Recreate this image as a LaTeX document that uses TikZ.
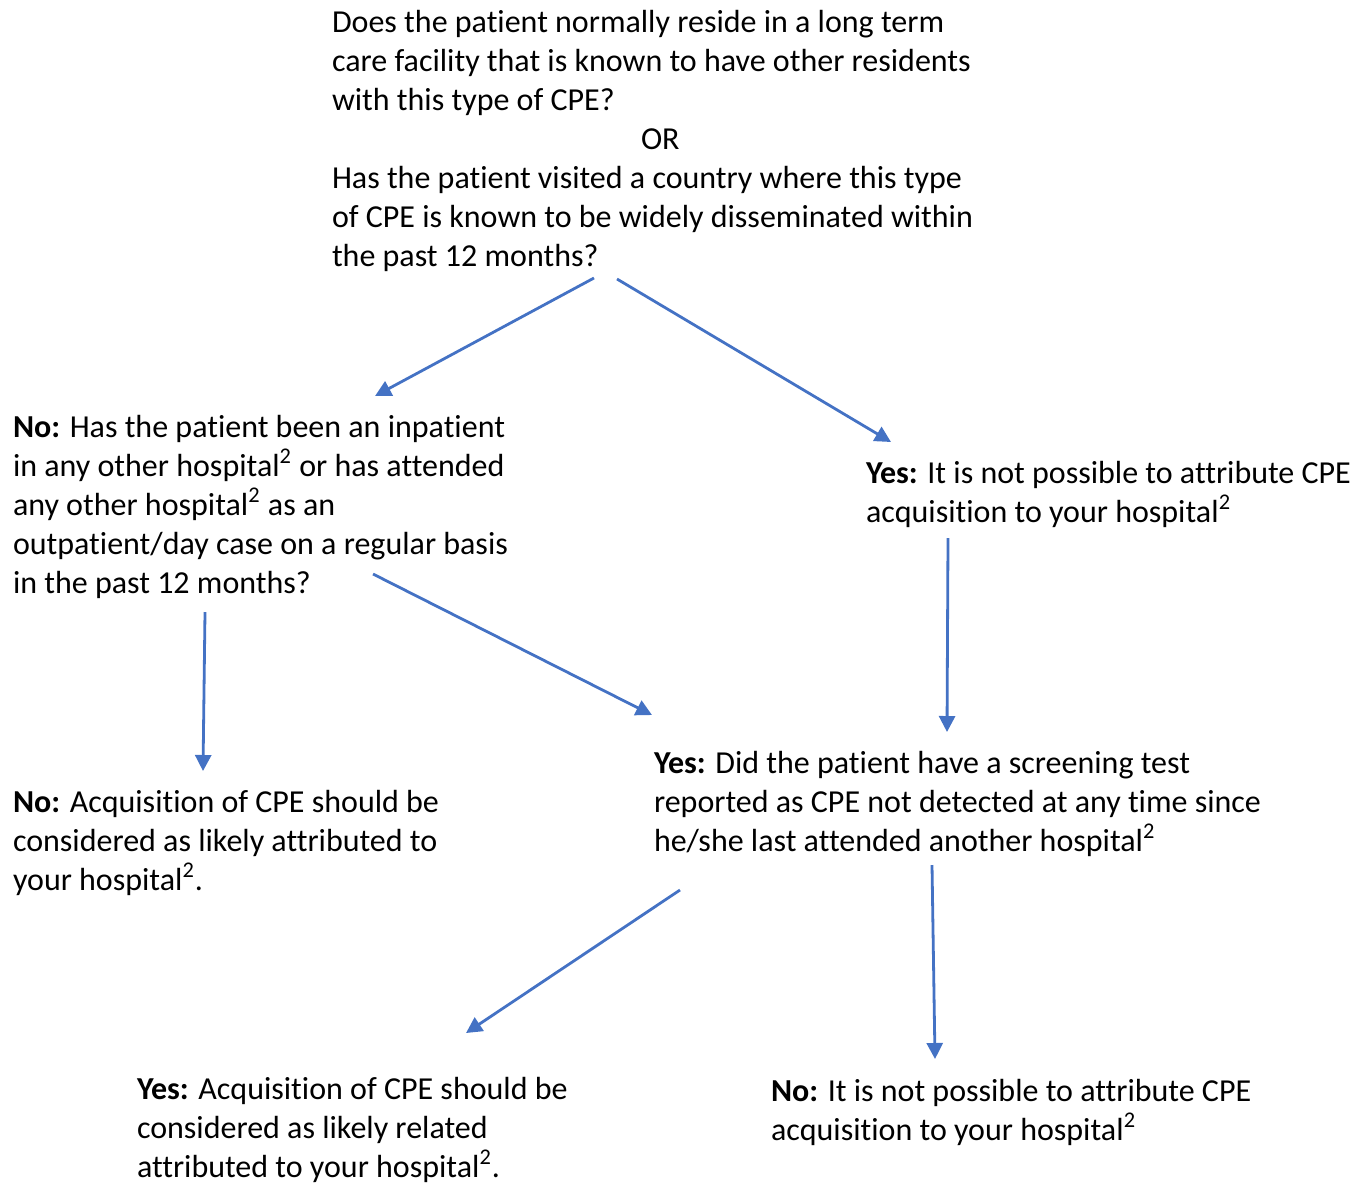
\documentclass[tikz,border=0pt]{standalone}
\usepackage{fontspec}
\setmainfont[Ligatures=NoCommon]{Carlito}
\usetikzlibrary{arrows.meta}
\definecolor{arrowblue}{HTML}{4472C4}
\tikzset{
  txt/.style={anchor=base west, inner sep=0pt, outer sep=0pt, font=\fontsize{16pt}{19.5pt}\selectfont},
  conn/.style={draw=arrowblue, line width=1.4pt, -{Triangle[length=8pt,width=8pt]}}
}
\newcommand{\blk}[1]{\parbox[t]{360pt}{\raggedright #1}}
\begin{document}
\begin{tikzpicture}[x=0.5pt,y=-0.5pt]
\useasboundingbox (0,0) rectangle (1368,1184);
\node[txt] (q1) at (332,32) {\blk{Does the patient normally reside in a long term\\
care facility that is known to have other residents\\
with this type of CPE?\\
\hspace*{154.5pt}OR\\
Has the patient visited a country where this type\\
of CPE is known to be widely disseminated within\\
the past 12 months?}};
\node[txt] (q2) at (13,437) {\blk{\textbf{No:} Has the patient been an inpatient\\
in any other hospital\textsuperscript{2} or has attended\\
any other hospital\textsuperscript{2} as an\\
outpatient/day case on a regular basis\\
in the past 12 months?}};
\node[txt] (r1) at (866,483) {\blk{\textbf{Yes:} It is not possible to attribute CPE\\
acquisition to your hospital\textsuperscript{2}}};
\node[txt] (r2) at (13,812) {\blk{\textbf{No:} Acquisition of CPE should be\\
considered as likely attributed to\\
your hospital\textsuperscript{2}.}};
\node[txt] (q3) at (654,773) {\blk{\textbf{Yes:} Did the patient have a screening test\\
reported as CPE not detected at any time since\\
he/she last attended another hospital\textsuperscript{2}}};
\node[txt] (r3) at (137,1099) {\blk{\textbf{Yes:} Acquisition of CPE should be\\
considered as likely related\\
attributed to your hospital\textsuperscript{2}.}};
\node[txt] (r4) at (771,1101) {\blk{\textbf{No:} It is not possible to attribute CPE\\
acquisition to your hospital\textsuperscript{2}}};
% connector endpoints
\coordinate (a1s) at (594,278); \coordinate (a1e) at (375,396);
\coordinate (a2s) at (617,279); \coordinate (a2e) at (891,442);
\coordinate (a3s) at (948,538); \coordinate (a3e) at (947,732);
\coordinate (a4s) at (205,612); \coordinate (a4e) at (203,771);
\coordinate (a5s) at (373,574); \coordinate (a5e) at (652,715);
\coordinate (a6s) at (680,890); \coordinate (a6e) at (466,1033);
\coordinate (a7s) at (932,865); \coordinate (a7e) at (935,1059);
\draw[conn] (a1s) -- (a1e);
\draw[conn] (a2s) -- (a2e);
\draw[conn] (a3s) -- (a3e);
\draw[conn] (a4s) -- (a4e);
\draw[conn] (a5s) -- (a5e);
\draw[conn] (a6s) -- (a6e);
\draw[conn] (a7s) -- (a7e);
\end{tikzpicture}
\end{document}
